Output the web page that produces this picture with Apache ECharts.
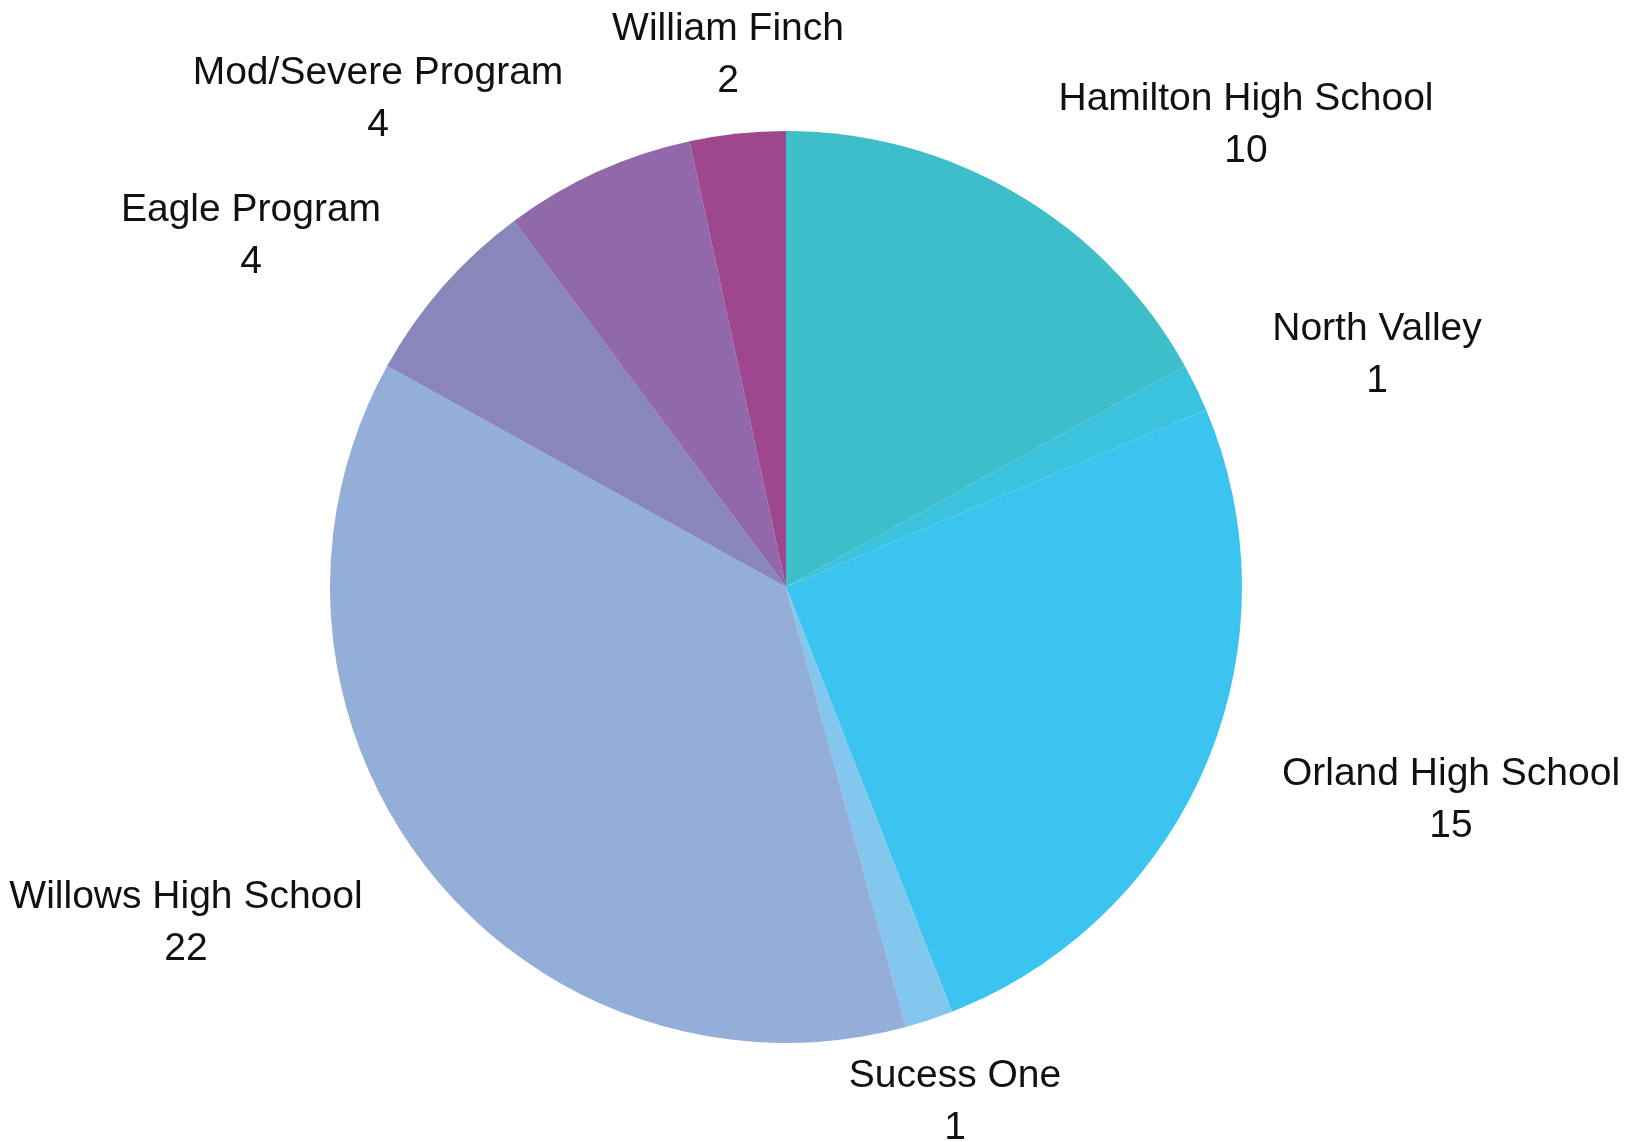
<!DOCTYPE html>
<html>
<head>
<meta charset="utf-8">
<script src="https://cdn.jsdelivr.net/npm/echarts@6/dist/echarts.min.js"></script>
<style>
html,body{margin:0;padding:0;background:#fff;}
#chart{width:1639px;height:1142px;}
</style>
</head>
<body>
<div id="chart"></div>
<script>
// ---- data ----
const categories = ["Hamilton High School","North Valley","Orland High School","Sucess One","Willows High School","Eagle Program","Mod/Severe Program","William Finch"];
const values = [10, 1, 15, 1, 22, 4, 4, 2];

// ---- styles / layout ----
const colors = ["#3dbec9","#3bc2dc","#3bc4ef","#84c7ee","#93aed8","#8886bb","#9169aa","#9e478f"];
const CX = 786, CY = 587, R = 456;
// label block centre offsets relative to pie centre (px)
const labelOffsets = [[460,-462],[591,-232],[665,213],[169,515],[-600,336],[-535,-351],[-408,-488],[-58,-532]];

const chart = echarts.init(document.getElementById('chart'), null, {renderer:'canvas'});
chart.setOption({
  animation: false,
  backgroundColor: '#ffffff',
  series: [{
    type: 'pie',
    center: [CX, CY],
    radius: R,
    startAngle: 90,
    clockwise: true,
    avoidLabelOverlap: false,
    data: categories.map((n, i) => ({name: n, value: values[i], itemStyle: {color: colors[i]}})),
    itemStyle: {borderWidth: 0},
    label: {
      show: true,
      position: 'outside',
      formatter: '{b}\n{c}',
      fontFamily: 'Liberation Sans, Arial, sans-serif',
      fontSize: 39,
      lineHeight: 52,
      color: '#111111',
      align: 'center'
    },
    labelLine: {show: false},
    labelLayout: function (p) {
      const o = labelOffsets[p.dataIndex];
      return {x: CX + o[0], y: CY + o[1], align: 'center', verticalAlign: 'middle', hideOverlap: false};
    },
    emphasis: {disabled: true}
  }]
});
</script>
</body>
</html>
